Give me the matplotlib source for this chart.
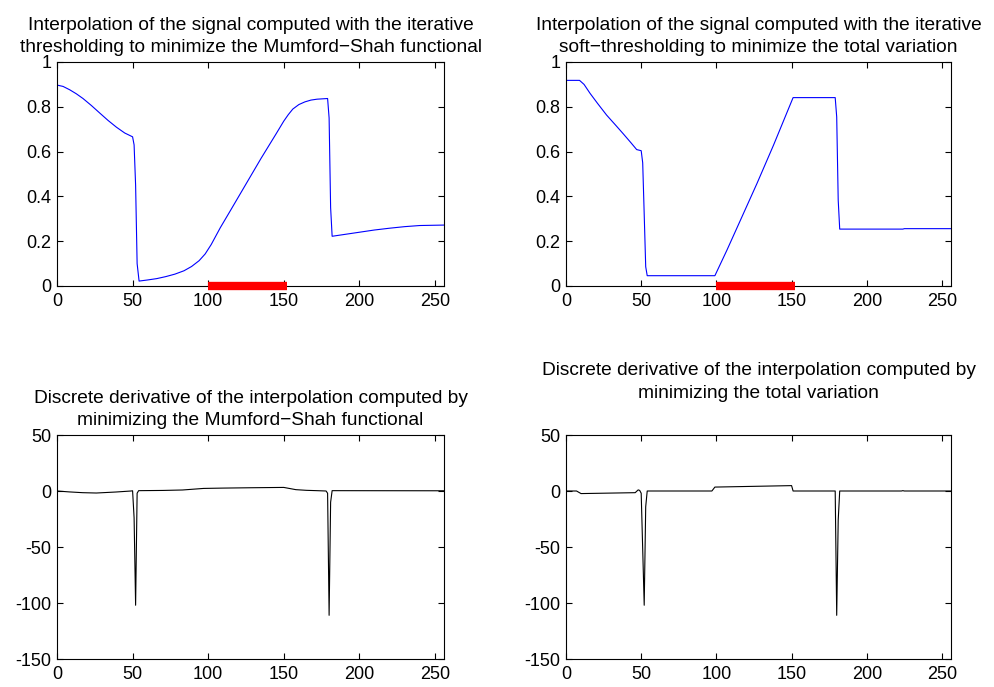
#!/usr/bin/env python

import matplotlib
matplotlib.use('Agg')
import matplotlib.pyplot as plt
from matplotlib.ticker import FormatStrFormatter

plt.rcParams['font.family'] = ['Liberation Sans', 'DejaVu Sans']
fs = 13
tfs = 13.8

# signal recovered with Mumford-Shah (top left)
ms_x = [0, 4, 8.4, 12.8, 17.2, 22.7, 28.3, 33.8, 39.3, 44.8, 50, 51, 52, 53, 54.3,
        60, 66, 72, 78, 84, 89, 94, 98, 102, 108, 115, 125, 135, 145, 150,
        153, 156, 160, 164, 168, 172, 179,
        180, 181, 182, 190, 200, 210, 220, 230, 240, 256]
ms_y = [0.897, 0.891, 0.876, 0.858, 0.837, 0.806, 0.772, 0.739, 0.709, 0.683, 0.666, 0.63, 0.45, 0.1, 0.022,
        0.027, 0.033, 0.042, 0.053, 0.068, 0.087, 0.113, 0.143, 0.185, 0.26, 0.34, 0.455, 0.57, 0.68, 0.736,
        0.765, 0.79, 0.81, 0.822, 0.83, 0.834, 0.837,
        0.75, 0.35, 0.222, 0.23, 0.24, 0.25, 0.258, 0.265, 0.27, 0.272]

# signal recovered with total variation (top right)
tv_x = [0, 9, 12, 16, 21, 27, 33, 38, 43, 47, 50, 51, 52, 53, 54,
        99, 107, 116, 127, 138, 151, 179, 180, 181, 182, 224, 225, 256]
tv_y = [0.918, 0.918, 0.9, 0.86, 0.815, 0.763, 0.718, 0.68, 0.641, 0.609, 0.604, 0.55, 0.32, 0.086, 0.046,
        0.046, 0.16, 0.294, 0.458, 0.629, 0.841, 0.841, 0.755, 0.383, 0.254, 0.254, 0.256, 0.256]

# discrete derivatives (bottom row)
dms_x = [0, 8, 17, 26, 39, 49, 50, 51, 52, 53, 54, 70, 83, 90, 97, 110, 128, 150, 154, 158, 165, 172,
         178, 179, 180, 181, 182, 256]
dms_y = [0, -0.8, -1.5, -1.8, -0.9, 0, 0.2, -24, -102, -2, 0.3, 0.5, 0.9, 1.6, 2.3, 2.6, 2.9, 3.2, 2.2, 1.2, 0.6, 0.3,
         0, -2, -111, -10, 0.3, 0.2]

dtv_x = [0, 7, 10, 46, 48, 49, 50, 52, 53, 54, 97, 99, 150, 151, 179, 180, 181, 182,
         223, 224, 225, 256]
dtv_y = [0, 0, -2.3, -1.5, 1, 0.5, -2, -102, -14, 0, 0, 3.5, 4.8, 0, 0, -111, -26, 0,
         0, 0.3, 0, 0]

hole = [100, 152]

titles = ['Interpolation of the signal computed with the iterative\n'
          'thresholding to minimize the Mumford\u2212Shah functional',
          'Interpolation of the signal computed with the iterative\n'
          'soft\u2212thresholding to minimize the total variation',
          'Discrete derivative of the interpolation computed by\n'
          'minimizing the Mumford\u2212Shah functional',
          'Discrete derivative of the interpolation computed by\n'
          'minimizing the total variation']


def style(ax, ylim, yticks):
    ax.set_xlim(0, 256)
    ax.set_ylim(*ylim)
    ax.set_xticks([0, 50, 100, 150, 200, 250])
    ax.set_yticks(yticks)
    ax.yaxis.set_major_formatter(FormatStrFormatter('%g'))
    ax.tick_params(direction='in', top=True, right=True, length=4,
                   width=0.8, labelsize=fs)
    ax.tick_params(axis='x', pad=5)
    ax.tick_params(axis='y', pad=4)
    for s in ax.spines.values():
        s.set_linewidth(0.8)


def main():
    fig = plt.figure(figsize=(9.95, 6.87), dpi=100)
    w = 387 / 995.
    h = 224 / 687.
    ax1 = fig.add_axes([57 / 995., 1 - 286 / 687., w, h])
    ax2 = fig.add_axes([566 / 995., 1 - 286 / 687., 385 / 995., h])
    ax3 = fig.add_axes([57 / 995., 1 - 659 / 687., w, h])
    ax4 = fig.add_axes([566 / 995., 1 - 659 / 687., 385 / 995., h])

    for ax, xs, ys in [(ax1, ms_x, ms_y), (ax2, tv_x, tv_y)]:
        ax.plot(xs, ys, color='b', lw=0.8)
        ax.plot(hole, [0, 0], color='r', lw=6, solid_capstyle='butt',
                clip_on=False, zorder=5)
        style(ax, (0, 1), [0, 0.2, 0.4, 0.6, 0.8, 1])

    for ax, xs, ys in [(ax3, dms_x, dms_y), (ax4, dtv_x, dtv_y)]:
        ax.plot(xs, ys, color='k', lw=0.8)
        style(ax, (-150, 50), [-150, -100, -50, 0, 50])

    ax1.set_title(titles[0], fontsize=tfs, pad=7, linespacing=1.4)
    ax2.set_title(titles[1], fontsize=tfs, pad=7, linespacing=1.4)
    ax3.set_title(titles[2], fontsize=tfs, pad=7, linespacing=1.4)
    ax4.set_title(titles[3], fontsize=tfs, pad=27, linespacing=1.4)

    fig.savefig('out.png', dpi=100)
    plt.close(fig)


if __name__ == "__main__":
    main()
